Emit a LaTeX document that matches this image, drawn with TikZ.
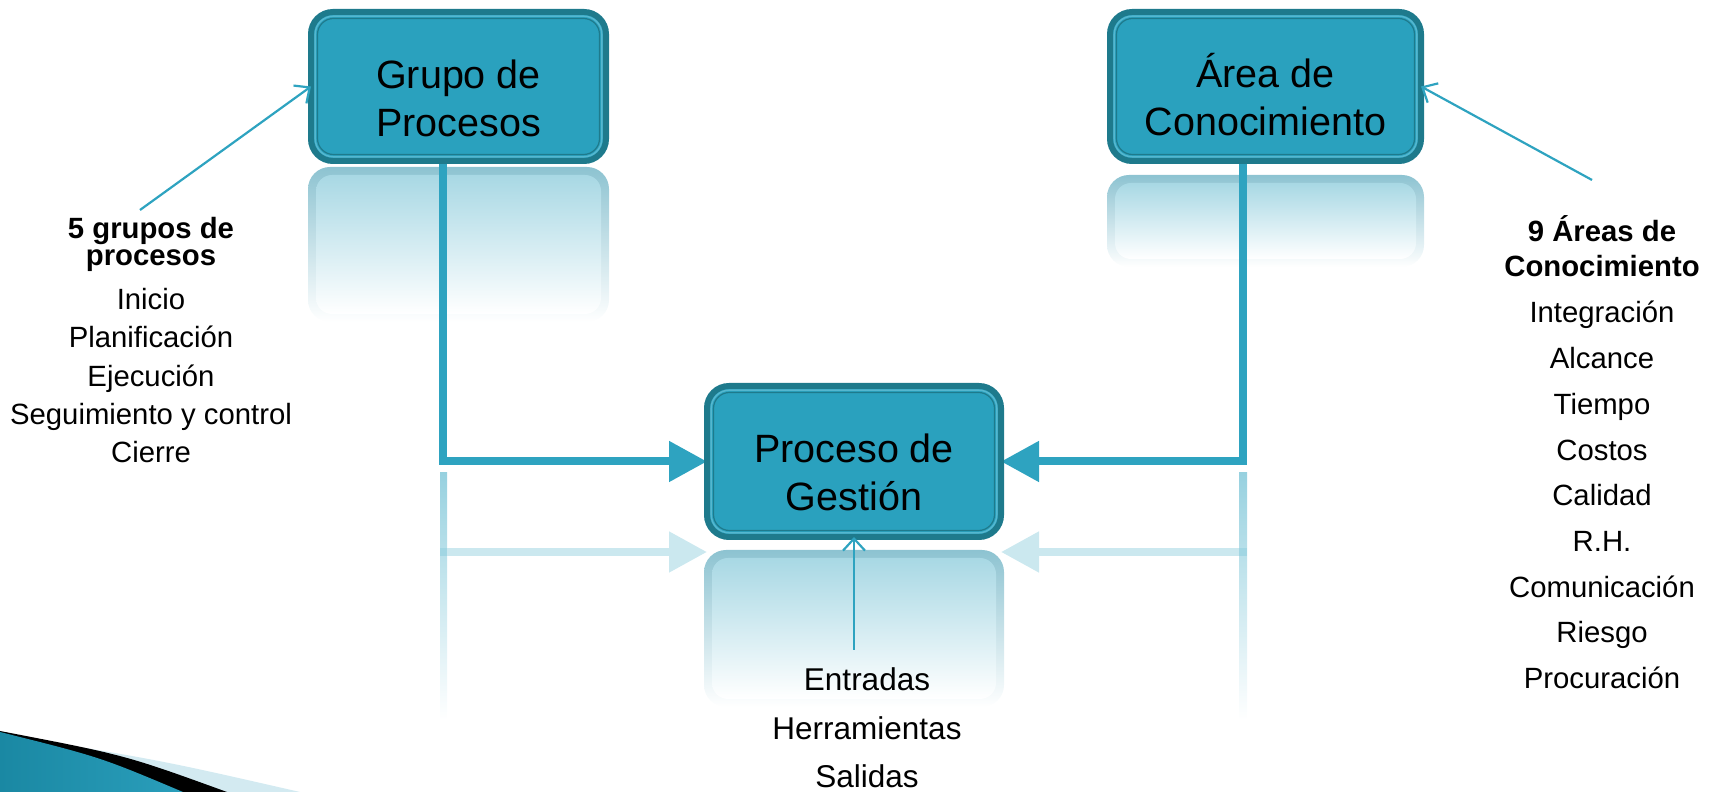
\documentclass[tikz,border=0pt]{standalone}
\usepackage{fontspec}
\setmainfont{Liberation Sans}
\usetikzlibrary{arrows.meta,calc}
\definecolor{boxfill}{HTML}{2AA1BE}
\definecolor{boxdark}{HTML}{1E7A8C}
\definecolor{boxlight}{HTML}{55B7CF}
\definecolor{conn}{HTML}{2EA3C0}
\definecolor{reflout}{HTML}{8DC3D1}
\definecolor{reflin}{HTML}{A8D8E4}
\definecolor{swlight}{HTML}{D3EAF1}
\definecolor{swtealA}{HTML}{1A88A3}
\definecolor{swtealB}{HTML}{2A9EBB}
\pgfdeclarelayer{bglayer}
\pgfsetlayers{bglayer,main}
\newcommand\boxdeco[1]{%
  \draw[boxlight, line width=1.5pt, rounded corners=18pt] ($(#1.south west)+(4.2,4.2)$) rectangle ($(#1.north east)-(4.2,4.2)$);
  \draw[boxdark, line width=1.2pt, rounded corners=16pt] ($(#1.south west)+(6.5,6.5)$) rectangle ($(#1.north east)-(6.5,6.5)$);}
\begin{document}
\begin{tikzpicture}[x=1pt,y=1pt,
  mainbox/.style={draw=boxdark, line width=6pt, fill=boxfill, rounded corners=22pt, inner sep=0pt, outer sep=0pt},
  boxtext/.style={font=\fontsize{39.5}{48}\selectfont, align=center, inner sep=0pt},
  sidetext/.style={font=\fontsize{29.3}{35}\selectfont, anchor=base, inner sep=0pt},
  sidebold/.style={font=\bfseries\fontsize{29.3}{35}\selectfont, anchor=base, inner sep=0pt},
  bottext/.style={font=\fontsize{31.5}{50}\selectfont, anchor=base, inner sep=0pt},
  flow/.style={draw=conn, line width=8pt, -{Triangle[length=38pt,width=39pt]}},
  reflflow/.style={draw=conn!25, line width=8pt, -{Triangle[length=38pt,width=39pt]}},
  calloutarrow/.style={draw=conn, line width=2.2pt, -{Straight Barb[length=12pt,width=22pt]}},
]
\useasboundingbox (0,0) rectangle (1718,792);
% boxes
\node[mainbox, minimum width=295pt, minimum height=149pt] (gp) at (458.5,705.5) {};
\node[mainbox, minimum width=311pt, minimum height=149pt] (ak) at (1265.5,705.5) {};
\node[mainbox, minimum width=294pt, minimum height=151pt] (pg) at (854,330.5) {};
\boxdeco{gp}
\boxdeco{ak}
\boxdeco{pg}
\begin{pgfonlayer}{bglayer}
% reflections of boxes
\shade[top color=reflout, bottom color=white, rounded corners=22pt] (308,625) rectangle (609,470);
\shade[top color=reflin, bottom color=white, rounded corners=16pt] (316,617) rectangle (601,478);
\shade[top color=reflout, bottom color=white, rounded corners=22pt] (1107,617) rectangle (1424,525);
\shade[top color=reflin, bottom color=white, rounded corners=16pt] (1115,609) rectangle (1416,533);
\shade[top color=reflout, bottom color=white, rounded corners=22pt] (704,242) rectangle (1004,85);
\shade[top color=reflin, bottom color=white, rounded corners=16pt] (712,234) rectangle (996,93);
% reflections of connectors
\shade[top color=conn!50, bottom color=white] (440,319) rectangle (447,72);
\shade[top color=conn!50, bottom color=white] (1239,319) rectangle (1247,72);
\coordinate (rla) at (440,240);
\coordinate (rlb) at (707,240);
\coordinate (rra) at (1247,240);
\coordinate (rrb) at (1001,240);
\draw[reflflow] (rla) -- (rlb);
\draw[reflflow] (rra) -- (rrb);
\fill[conn!45] (440,236) rectangle (447,244);
\fill[conn!45] (1239,236) rectangle (1247,244);
% swoosh bottom left
\fill[swlight] (0,58) .. controls (160,32) .. (300,0) -- (0,0) -- cycle;
\fill[black] (0,61) .. controls (125,37) .. (227,0) -- (0,0) -- cycle;
\shade[left color=swtealA, right color=swtealB] (0,60) .. controls (100,35) .. (183,0) -- (0,0) -- cycle;
% main connectors
\draw[flow] ($(gp.south)+(-15.5,2)$) |- (pg.west);
\draw[flow] ($(ak.south)+(-22.5,2)$) |- (pg.east);
\end{pgfonlayer}
% box texts
\node[boxtext] (gpt) at (458.5,693.4) {Grupo de\\Procesos};
\node[boxtext] (akt) at (1265.5,697.9) {Área de\\Conocimiento};
\node[boxtext] (pgt) at (854,319.4) {Proceso de\\Gestión};
% callouts
\coordinate (c1) at (140,582);
\coordinate (c2) at (1592,612);
\coordinate (c3) at (854,142);
\draw[calloutarrow] (c1) -- (gp.west);
\draw[calloutarrow] (c2) -- (ak.east);
\draw[calloutarrow] (c3) -- (pg.south);
% left text
\node[sidebold] (l0) at (151,553) {5 grupos de};
\node[sidebold] (l1) at (151,526) {procesos};
\node[sidetext] (l2) at (151,482) {Inicio};
\node[sidetext] (l3) at (151,444) {Planificación};
\node[sidetext] (l4) at (151,405) {Ejecución};
\node[sidetext] (l5) at (151,367) {Seguimiento y control};
\node[sidetext] (l6) at (151,329) {Cierre};
% right text
\node[sidebold] (r0) at (1602,550) {9 Áreas de};
\node[sidebold] (r1) at (1602,515) {Conocimiento};
\node[sidetext] (r2) at (1602,469) {Integración};
\node[sidetext] (r3) at (1602,423.3) {Alcance};
\node[sidetext] (r4) at (1602,377.6) {Tiempo};
\node[sidetext] (r5) at (1602,331.9) {Costos};
\node[sidetext] (r6) at (1602,286.2) {Calidad};
\node[sidetext] (r7) at (1602,240.5) {R.H.};
\node[sidetext] (r8) at (1602,194.8) {Comunicación};
\node[sidetext] (r9) at (1602,149.1) {Riesgo};
\node[sidetext] (r10) at (1602,103.4) {Procuración};
% bottom text
\node[bottext] (b0) at (867,101) {Entradas};
\node[bottext] (b1) at (867,52) {Herramientas};
\node[bottext] (b2) at (867,4) {Salidas};
\end{tikzpicture}
\end{document}
